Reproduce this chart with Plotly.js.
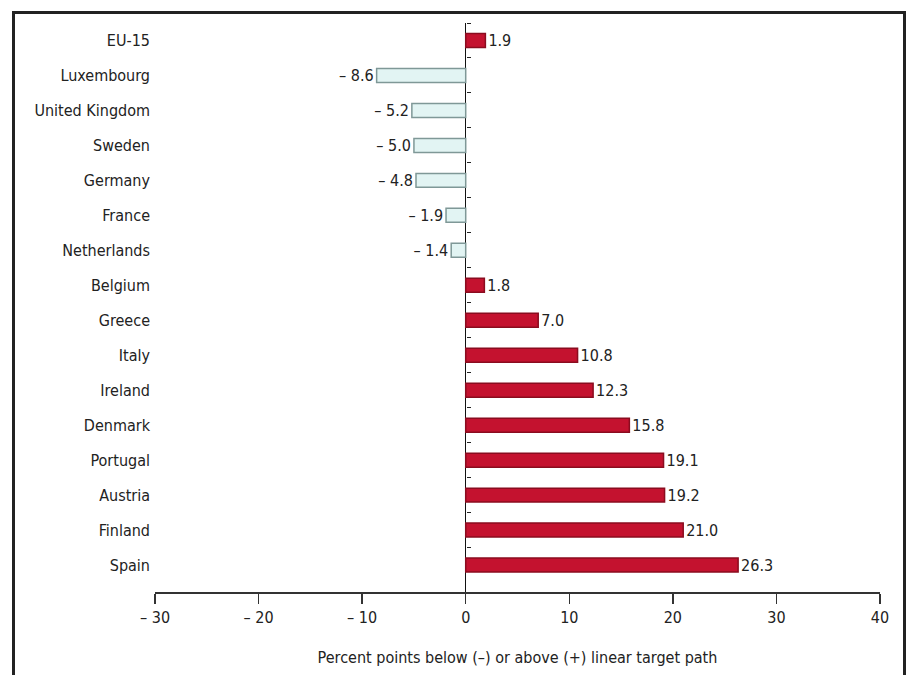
<!DOCTYPE html>
<html><head><meta charset="utf-8">
<script src="https://cdn.plot.ly/plotly-3.0.1.min.js"></script>
<style>
body{margin:0;padding:0;background:#fff;}
#wrap{position:relative;width:910px;height:675px;overflow:hidden;}
#chart{position:absolute;left:0;top:0;width:910px;height:675px;}
#frame{position:absolute;left:12px;top:11px;width:888px;height:720px;border:3px solid #222;pointer-events:none;}
</style></head>
<body><div id="wrap"><div id="chart"></div><div id="frame"></div></div>
<script>
const countries = ["EU-15","Luxembourg","United Kingdom","Sweden","Germany","France","Netherlands","Belgium","Greece","Italy","Ireland","Denmark","Portugal","Austria","Finland","Spain"];
const values = [1.9,-8.6,-5.2,-5.0,-4.8,-1.9,-1.4,1.8,7.0,10.8,12.3,15.8,19.1,19.2,21.0,26.3];
const tickVals = [-30,-20,-10,0,10,20,30,40];
const tickText = ["– 30","– 20","– 10","0","10","20","30","40"];
const xTitle = "Percent points below (–) or above (+) linear target path";

const FONT = '"Liberation Sans Narrow","DejaVu Sans Condensed","Roboto Condensed",Arial,sans-serif';
const labels = values.map(v => v < 0 ? "– " + Math.abs(v).toFixed(1) : v.toFixed(1));
const fills = values.map(v => v < 0 ? "#e2f4f3" : "#c4122f");
const lines = values.map(v => v < 0 ? "#7f9897" : "#8a0c1f");

const traces = [{
  type: "bar", orientation: "h",
  x: values, y: countries,
  width: 0.4,
  marker: {color: fills, line: {color: lines, width: 1.5}},
  text: labels, textposition: "outside", cliponaxis: false, constraintext: "none",
  textfont: {family: FONT, size: 16, color: "#222"},
  hoverinfo: "x+y"
},{
  type: "scatter", mode: "markers", x: countries.map(() => 0), y: countries,
  yaxis: "y2", marker: {opacity: 0}, hoverinfo: "skip", showlegend: false
}];

const layout = {
  width: 910, height: 675,
  margin: {l: 155, r: 30, t: 22.5, b: 83},
  paper_bgcolor: "#fff", plot_bgcolor: "#fff",
  showlegend: false, bargap: 0.6,
  font: {family: FONT, size: 16, color: "#222"},
  xaxis: {
    range: [-30, 40], tickvals: tickVals, ticktext: tickText,
    showgrid: false, zeroline: true, zerolinecolor: "#111", zerolinewidth: 1.5,
    showline: true, linecolor: "#333", linewidth: 2,
    ticks: "outside", ticklen: 10, tickwidth: 1.5, tickcolor: "#333",
    tickfont: {family: FONT, size: 16, color: "#222"},
    title: {text: xTitle, font: {family: FONT, size: 16, color: "#222"}, standoff: 26}
  },
  yaxis: {
    type: "category", categoryorder: "array", categoryarray: countries,
    range: [15.77, -0.5], showgrid: false, zeroline: false, showline: false,
    ticks: "", ticklabelstandoff: 4,
    tickfont: {family: FONT, size: 16, color: "#222"}
  },
  yaxis2: {
    type: "category", categoryorder: "array", categoryarray: countries,
    overlaying: "y", anchor: "free", position: 30/70, side: "right",
    range: [15.77, -0.5], showgrid: false, zeroline: false,
    showline: false, showticklabels: false,
    ticks: "outside", tickson: "boundaries", ticklen: 4, tickcolor: "#222", tickwidth: 1
  }
};

Plotly.newPlot("chart", traces, layout, {displayModeBar: false, staticPlot: true});
</script></body></html>
